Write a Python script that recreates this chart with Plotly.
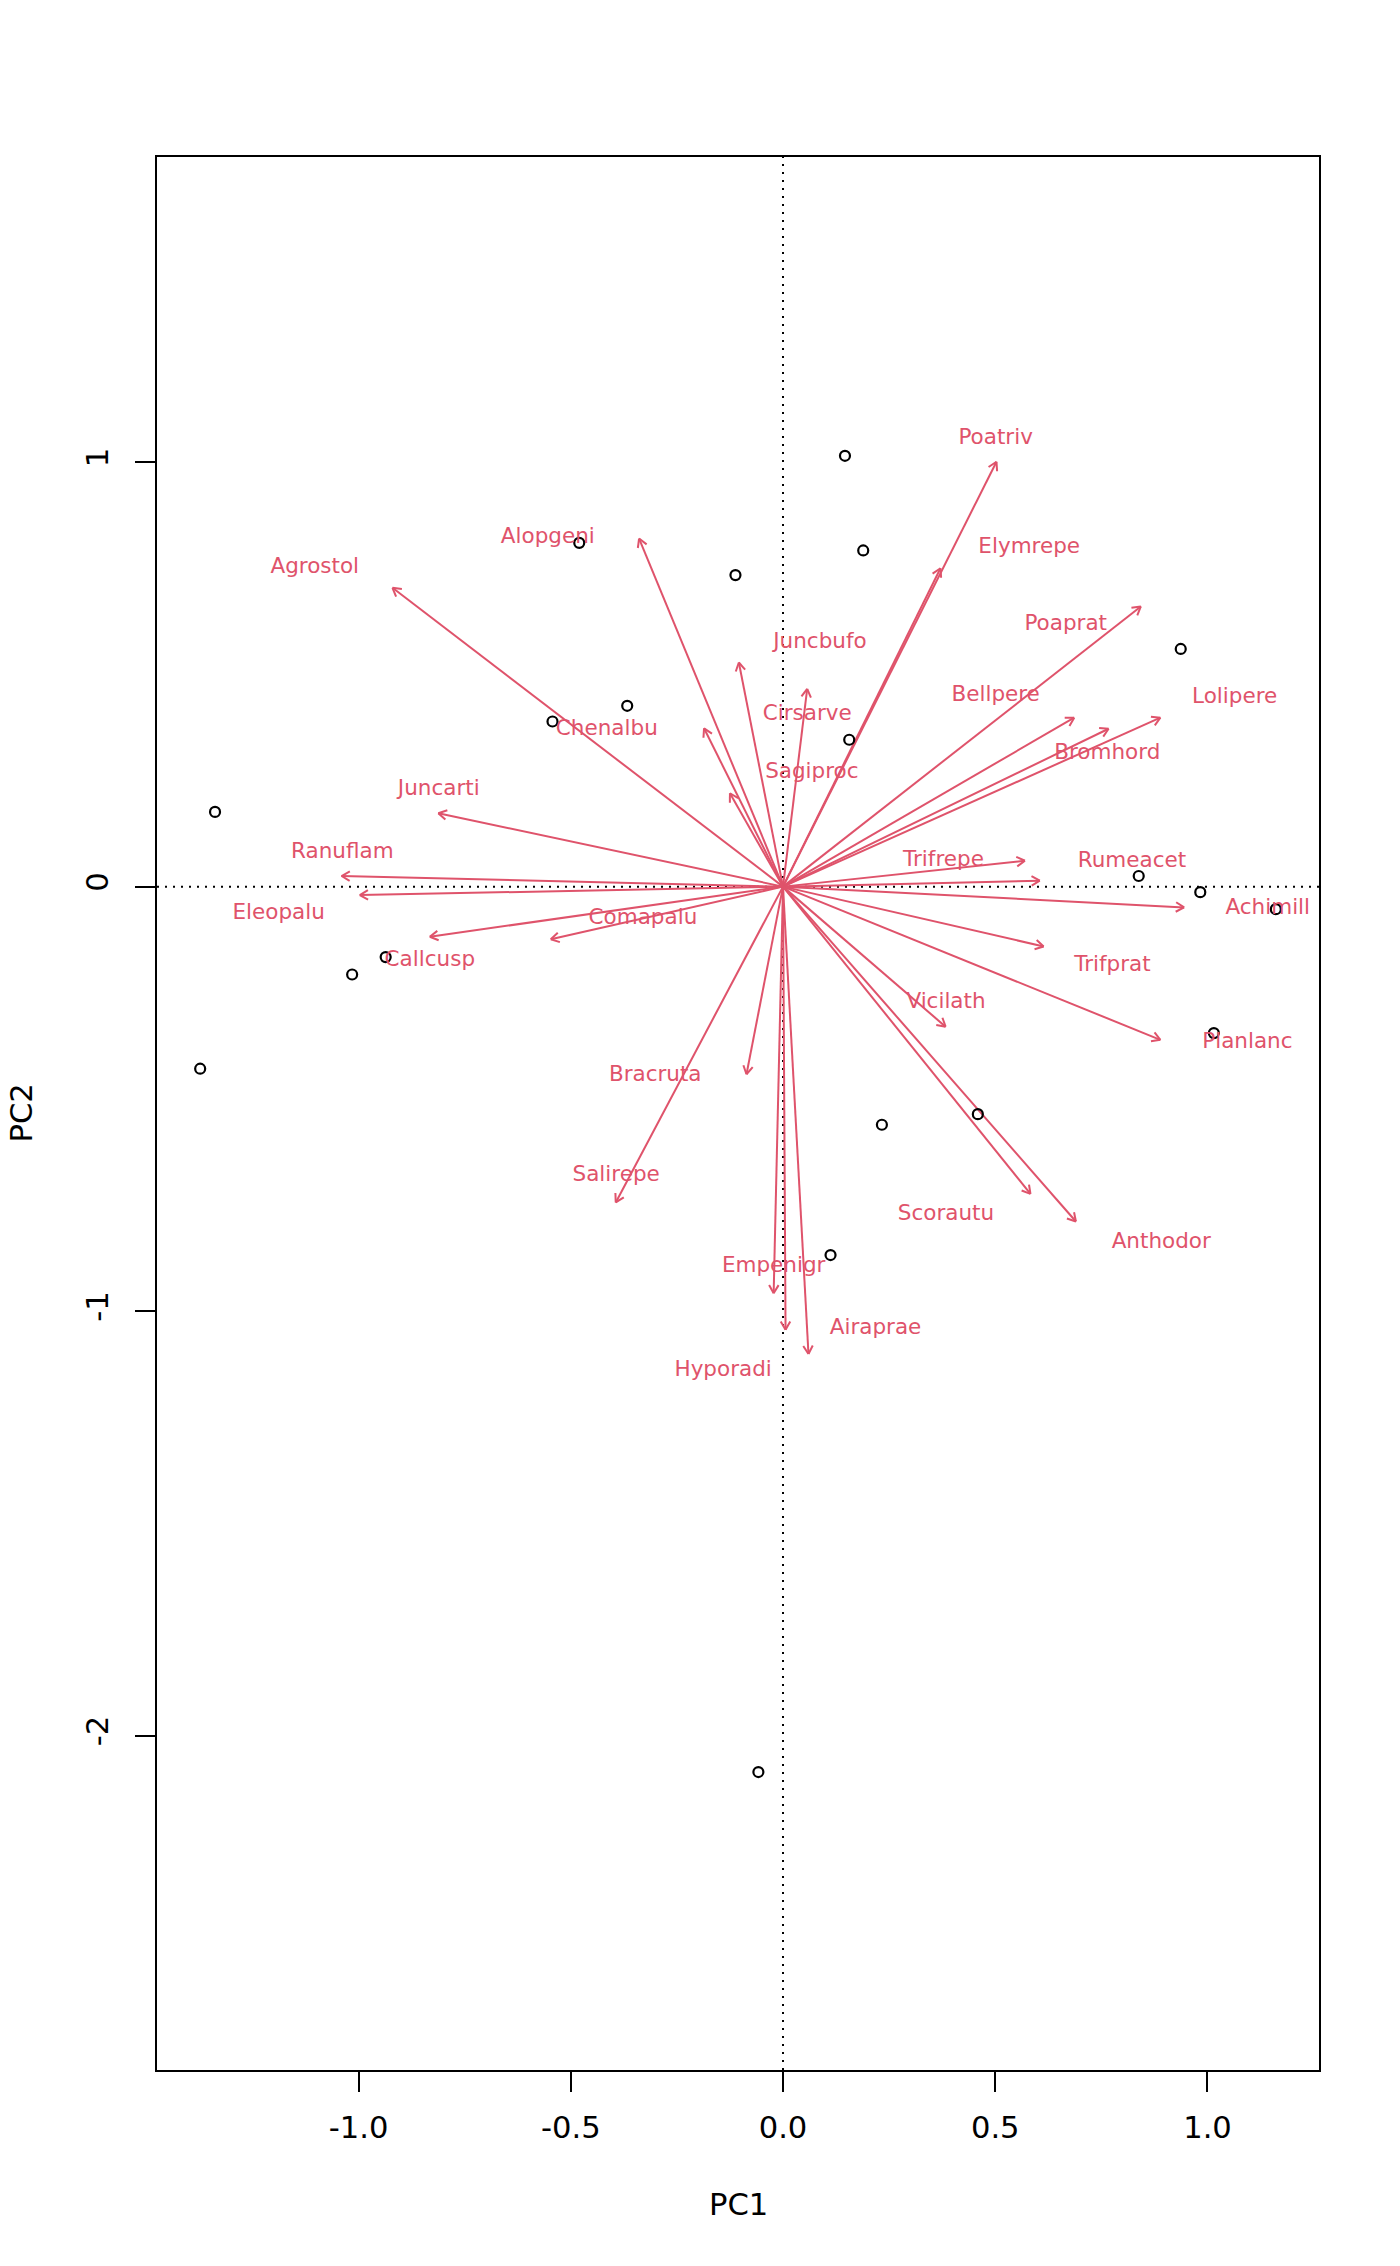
import math
import plotly.graph_objects as go

# ---------------- data ----------------
species = ["Achimill", "Agrostol", "Airaprae", "Alopgeni", "Anthodor", "Bellpere",
           "Bromhord", "Chenalbu", "Cirsarve", "Comapalu", "Eleopalu", "Elymrepe",
           "Empenigr", "Hyporadi", "Juncarti", "Juncbufo", "Lolipere", "Planlanc",
           "Poaprat", "Poatriv", "Ranuflam", "Rumeacet", "Sagiproc", "Salirepe",
           "Scorautu", "Trifprat", "Trifrepe", "Vicilath", "Bracruta", "Callcusp"]

species_pc1 = [0.945, -0.920, 0.060, -0.339, 0.690, 0.686,
               0.767, -0.186, 0.057, -0.547, -0.997, 0.371,
               -0.022, 0.006, -0.812, -0.104, 0.889, 0.889,
               0.843, 0.503, -1.040, 0.605, -0.125, -0.394,
               0.583, 0.614, 0.570, 0.383, -0.086, -0.832]
species_pc2 = [-0.049, 0.704, -1.101, 0.820, -0.789, 0.398,
               0.372, 0.373, 0.466, -0.124, -0.020, 0.750,
               -0.958, -1.044, 0.173, 0.528, 0.398, -0.361,
               0.660, 1.001, 0.025, 0.014, 0.220, -0.744,
               -0.724, -0.141, 0.061, -0.330, -0.442, -0.118]

label_pc1 = [1.142, -1.103, 0.218, -0.554, 0.891, 0.501,
             0.764, -0.415, 0.057, -0.330, -1.188, 0.580,
             -0.022, -0.141, -0.811, 0.087, 1.064, 1.094,
             0.666, 0.501, -1.038, 0.822, 0.068, -0.393,
             0.384, 0.776, 0.378, 0.384, -0.301, -0.832]
label_pc2 = [-0.051, 0.752, -1.041, 0.822, -0.839, 0.449,
             0.313, 0.369, 0.405, -0.076, -0.063, 0.799,
             -0.895, -1.141, 0.229, 0.575, 0.446, -0.367,
             0.618, 1.055, 0.080, 0.059, 0.269, -0.681,
             -0.772, -0.186, 0.061, -0.273, -0.445, -0.174]

site_pc1 = [-0.480, -0.112, 0.146, 0.189, -0.367, -0.543, 0.156, -1.338, 0.937, 0.838,
            0.983, 1.161, 1.015, 0.459, 0.233, 0.112, -0.936, -1.015, -1.373, -0.058]
site_pc2 = [0.810, 0.734, 1.015, 0.792, 0.426, 0.389, 0.346, 0.176, 0.560, 0.025,
            -0.013, -0.053, -0.345, -0.536, -0.561, -0.868, -0.166, -0.207, -0.429, -2.086]

x_tickvals = [-1.0, -0.5, 0.0, 0.5, 1.0]
x_ticktext = ["-1.0", "-0.5", "0.0", "0.5", "1.0"]
y_tickvals = [-2, -1, 0, 1]
y_ticktext = ["-2", "-1", "0", "1"]

x_range = [-1.4747, 1.2627]
y_range = [-2.788, 1.719]

# ---------------- styling ----------------
W, H = 1400, 2266
M_L, M_R, M_T, M_B = 157, 81, 157, 196
RED = "#DF536B"
FONT = "DejaVu Sans"
AXIS_FS = 30.6
LABEL_FS = 21.5
HEAD_PX = 9.5
HEAD_ANGLE = math.radians(30)

plot_w = W - M_L - M_R
plot_h = H - M_T - M_B
sx = plot_w / (x_range[1] - x_range[0])   # px per data unit (x)
sy = plot_h / (y_range[1] - y_range[0])   # px per data unit (y)

# arrows: shafts + open heads (computed in pixel space, converted back)
ax_x, ax_y = [], []
for x1, y1 in zip(species_pc1, species_pc2):
    ax_x += [0, x1, None]
    ax_y += [0, y1, None]
    ang = math.atan2(y1 * sy, x1 * sx)
    for s in (1, -1):
        a = ang + math.pi + s * HEAD_ANGLE
        bx = x1 + HEAD_PX * math.cos(a) / sx
        by = y1 + HEAD_PX * math.sin(a) / sy
        ax_x += [x1, bx, None]
        ax_y += [y1, by, None]

fig = go.Figure()

fig.add_trace(go.Scatter(
    x=ax_x, y=ax_y, mode="lines",
    line=dict(color=RED, width=2),
    hoverinfo="skip", showlegend=False))

fig.add_trace(go.Scatter(
    x=site_pc1, y=site_pc2, mode="markers",
    marker=dict(symbol="circle-open", size=10, color="black",
                line=dict(color="black", width=2.2)),
    showlegend=False))

fig.add_trace(go.Scatter(
    x=label_pc1, y=label_pc2, mode="text", text=species,
    textposition="middle center",
    textfont=dict(family=FONT, size=LABEL_FS, color=RED),
    showlegend=False, cliponaxis=False))

dotted = dict(color="black", width=2, dash="2px,6px")
fig.add_shape(type="line", xref="paper", yref="y", x0=0, x1=1, y0=0, y1=0,
              line=dotted, layer="below")
fig.add_shape(type="line", xref="x", yref="paper", x0=0, x1=0, y0=0, y1=1,
              line=dotted, layer="below")

axis_common = dict(
    showgrid=False, zeroline=False, showline=True, linecolor="black",
    linewidth=2, mirror=True, ticks="outside", ticklen=20, tickwidth=2,
    tickcolor="black", tickfont=dict(family=FONT, size=AXIS_FS, color="black"),
)

fig.update_layout(
    width=W, height=H,
    margin=dict(l=M_L, r=M_R, t=M_T, b=M_B, pad=0),
    plot_bgcolor="white", paper_bgcolor="white",
    font=dict(family=FONT, color="black"),
    showlegend=False,
    xaxis=dict(range=x_range, tickmode="array", tickvals=x_tickvals,
               ticktext=x_ticktext, ticklabelstandoff=9, **axis_common),
    yaxis=dict(range=y_range, tickmode="array", tickvals=y_tickvals,
               ticktext=y_ticktext, tickangle=-90, ticklabelstandoff=15,
               **axis_common),
    annotations=[
        dict(text="PC1", xref="paper", yref="paper", x=0.5, y=0,
             xanchor="center", yanchor="middle", yshift=-134,
             showarrow=False, font=dict(family=FONT, size=AXIS_FS, color="black")),
        dict(text="PC2", xref="paper", yref="paper", x=0, y=0.5,
             xanchor="center", yanchor="middle", xshift=-136, textangle=-90,
             showarrow=False, font=dict(family=FONT, size=AXIS_FS, color="black")),
    ],
)

fig.write_html("out.html",
               config={"displayModeBar": False},
               post_script="document.body.style.margin='0px';"
                           "document.body.style.padding='0px';")
